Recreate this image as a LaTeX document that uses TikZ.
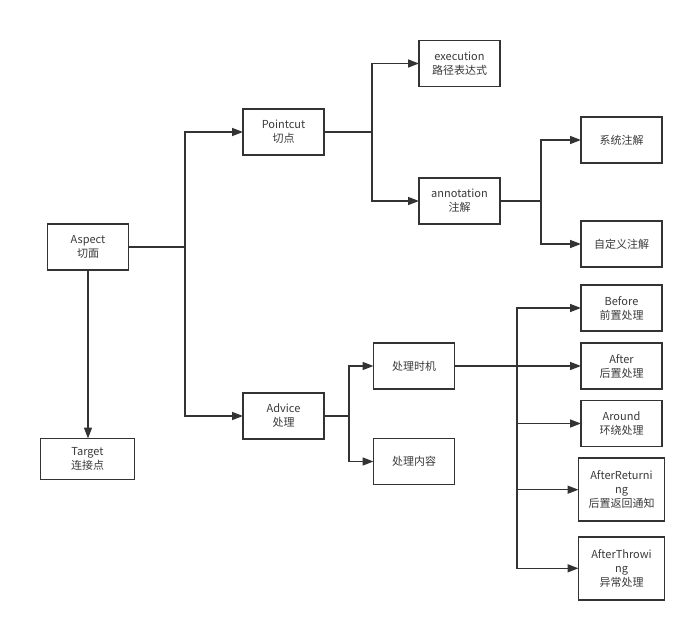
\documentclass[tikz,border=0pt]{standalone}
\usepackage{fontspec}
\setmainfont{Noto Sans CJK SC}
\usetikzlibrary{arrows.meta}
\definecolor{ln}{HTML}{333333}
\definecolor{tx}{HTML}{3A3A3A}
\begin{document}
\begin{tikzpicture}[x=1pt,y=-1pt,
  box/.style={draw=ln,line width=1.5pt,fill=white,inner sep=0pt,outer sep=0pt,
    minimum width=81pt,minimum height=46pt,align=center,text=tx,
    font=\fontsize{11}{14}\selectfont},
  arr/.style={draw=ln,line width=1.5pt,-{Triangle[length=11pt,width=8pt]}},
  ln/.style={draw=ln,line width=1.5pt}]
\useasboundingbox (0,0) rectangle (691,626);
\node[box] (aspect) at (88,247) {Aspect\\切面};
\node[box,minimum width=94pt,minimum height=41pt] (target) at (87.5,459) {Target\\连接点};
\node[box] (pointcut) at (283.5,132) {Pointcut\\切点};
\node[box] (advice) at (283.5,416) {Advice\\处理};
\node[box] (exec) at (459.5,63.5) {execution\\路径表达式};
\node[box] (anno) at (459.5,201) {annotation\\注解};
\node[box] (sys) at (621.5,140) {系统注解};
\node[box] (custom) at (621.5,244) {自定义注解};
\node[box] (timing) at (414,366) {处理时机};
\node[box] (content) at (414,461.5) {处理内容};
\node[box] (before) at (621.5,308) {Before\\前置处理};
\node[box] (after) at (621.5,366) {After\\后置处理};
\node[box] (around) at (621.5,423.5) {Around\\环绕处理};
\node[box,minimum width=86pt,minimum height=63pt] (afterret) at (621.5,489.7) {AfterReturni\\ng\\后置返回通知};
\node[box,minimum width=86pt,minimum height=63pt] (afterthr) at (621.5,568.3) {AfterThrowi\\ng\\异常处理};
\coordinate (j1) at (185,247);
\coordinate (j2) at (372,132);
\coordinate (j3) at (541,201);
\coordinate (j4) at (349,416);
\coordinate (j5) at (517,366);
\draw[ln] (aspect.east) -- (j1);
\draw[arr] (j1) |- (pointcut.west);
\draw[arr] (j1) |- (advice.west);
\draw[arr] (aspect.south) -- (aspect.south |- target.north);
\draw[ln] (pointcut.east) -- (j2);
\draw[arr] (j2) |- (exec.west);
\draw[arr] (j2) |- (anno.west);
\draw[ln] (anno.east) -- (j3);
\draw[arr] (j3) |- (sys.west);
\draw[arr] (j3) |- (custom.west);
\draw[ln] (advice.east) -- (j4);
\draw[arr] (j4) |- (timing.west);
\draw[arr] (j4) |- (content.west);
\draw[ln] (timing.east) -- (j5);
\draw[arr] (j5) |- (before.west);
\draw[arr] (j5) |- (after.west);
\draw[arr] (j5) |- (around.west);
\draw[arr] (j5) |- (afterret.west);
\draw[arr] (j5) |- (afterthr.west);
\end{tikzpicture}
\end{document}
